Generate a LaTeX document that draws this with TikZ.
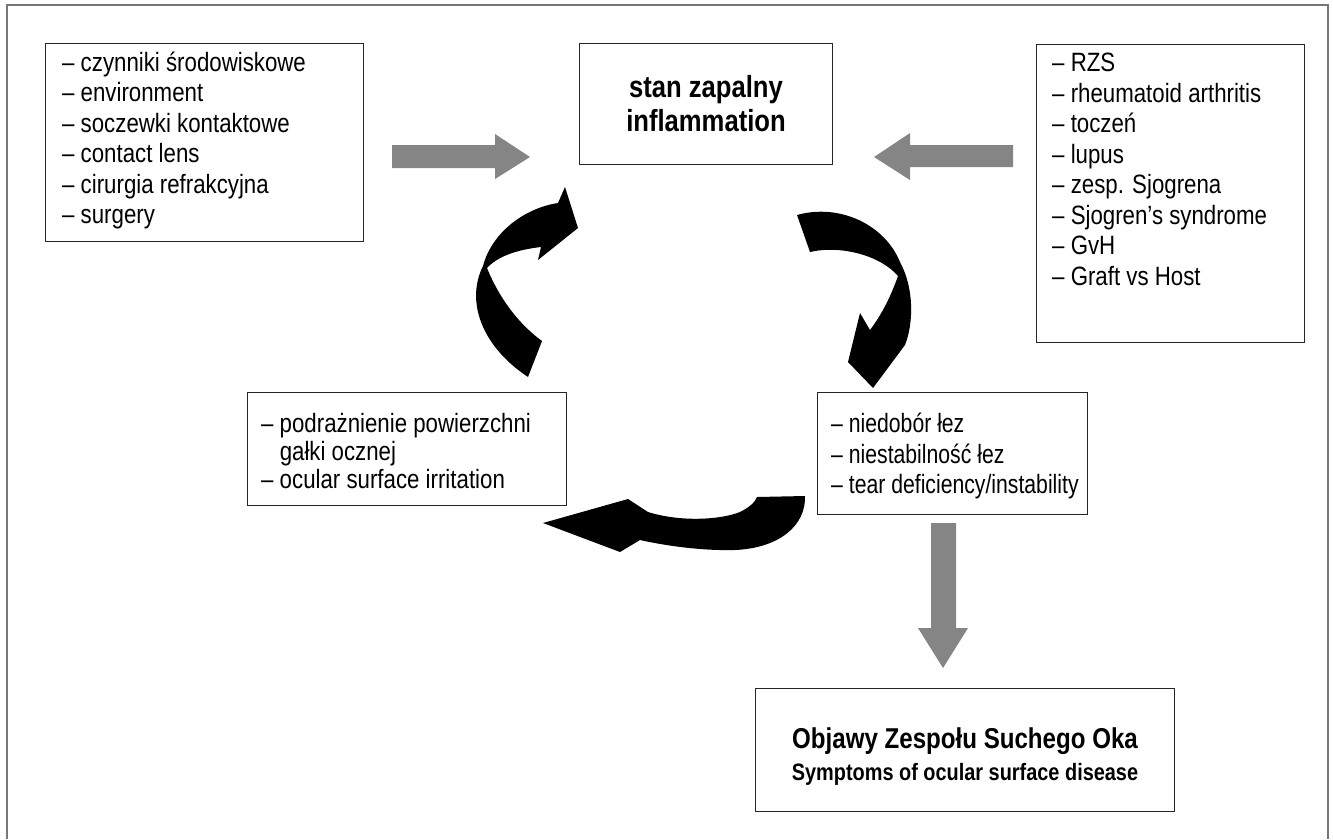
\documentclass[tikz,border=0pt]{standalone}
\usepackage{fontspec}
\setmainfont{Liberation Sans}[FakeStretch=0.84]
\newfontfamily\narrowfont{Liberation Sans}[FakeStretch=0.80]
\usetikzlibrary{calc}
\definecolor{frame}{HTML}{777777}
\definecolor{arrowgray}{HTML}{858585}
\newcommand{\firstline}{\rule{0pt}{26pt}}
\tikzset{
  box/.style={draw=black!85, line width=1.3pt, anchor=north west, inner sep=0pt},
  listtext/.style={anchor=north west, align=left, inner sep=0pt, font=\fontsize{26.5}{30.5}\selectfont},
  grayarrow/.style={fill=arrowgray, draw=none},
  blackarrow/.style={fill=black, draw=none},
}
\begin{document}
\begin{tikzpicture}[x=1pt,y=-1pt]
\useasboundingbox (0,0) rectangle (1333,839);
% outer frame
\draw[frame, line width=2pt] (7,839) -- (7,5) -- (1328,5) -- (1328,839);

% boxes
\node[box, minimum width=318pt, minimum height=198pt] (L) at (45,43) {};
\node[listtext] (Lt) at (62,45) {\firstline– czynniki środowiskowe\\– environment\\– soczewki kontaktowe\\– contact lens\\– cirurgia refrakcyjna\\– surgery};

\node[box, minimum width=253pt, minimum height=121pt] (C) at (579,43) {};
\node[align=center, inner sep=0pt, font=\bfseries\fontsize{30.5}{34}\selectfont] (Ct) at (706,104) {stan zapalny\\inflammation};

\node[box, minimum width=268pt, minimum height=298pt] (R) at (1036,44) {};
\node[listtext] (Rt) at (1052,45.5) {\firstline– RZS\\– rheumatoid arthritis\\– toczeń\\– lupus\\– zesp. Sjogrena\\– Sjogren’s syndrome\\– GvH\\– Graft vs Host};

\node[box, minimum width=319pt, minimum height=113pt] (M) at (247,392) {};
\node[listtext, font=\fontsize{26.5}{28}\selectfont] (Mt) at (261,406) {\firstline– podrażnienie powierzchni\\\hphantom{– }gałki ocznej\\– ocular surface irritation};

\node[box, minimum width=270pt, minimum height=122pt] (N) at (817,392) {};
\node[listtext, font=\narrowfont\fontsize{26.5}{30.5}\selectfont] (Nt) at (831,406.5) {\firstline– niedobór łez\\– niestabilność łez\\– tear deficiency/instability};

\node[box, minimum width=419pt, minimum height=123pt] (S) at (755,688) {};
\node[align=center, inner sep=0pt, font=\bfseries\fontsize{28.7}{34}\selectfont] (St1) at (965,741) {Objawy Zespołu Suchego Oka};
\node[align=center, inner sep=0pt, font=\bfseries\fontsize{23.7}{30}\selectfont] (St2) at (965,774) {Symptoms of ocular surface disease};

% gray block arrows
\fill[grayarrow] (392,145) -- (495,145) -- (495,134) -- (530,157) -- (495,179) -- (495,168) -- (392,168) -- cycle;
\fill[grayarrow] (1013,145) -- (910,145) -- (910,133) -- (874,157) -- (910,180) -- (910,167) -- (1013,167) -- cycle;
\fill[grayarrow] (931,523) -- (956,523) -- (956,628) -- (968,628) -- (943,668) -- (918,628) -- (931,628) -- cycle;

% black curved arrows
% left (upward)
\fill[blackarrow] (528,377) .. controls (480,345) and (466,300) .. (483,266)
  .. controls (492,232) and (525,208) .. (558,203)
  -- (565,187) -- (578,228) -- (538,260) -- (541,247)
  .. controls (515,250) and (497,257) .. (487,268)
  .. controls (500,300) and (520,325) .. (542,341) -- cycle;
% right (downward)
\fill[blackarrow] (797,215) .. controls (840,203) and (885,225) .. (900,262)
  .. controls (915,290) and (913,325) .. (905,345)
  -- (873,388) -- (848,362) -- (860,313) -- (870,330)
  .. controls (885,310) and (893,290) .. (898,276)
  .. controls (880,255) and (840,245) .. (810,252) -- cycle;
% bottom (leftward)
\fill[blackarrow] (805,496) .. controls (806,525) and (780,548) .. (735,550)
  .. controls (700,551) and (662,545) .. (640,540)
  -- (620,552) -- (543,523) -- (628,499) -- (648,512)
  .. controls (680,522) and (720,520) .. (740,512)
  .. controls (750,507) and (755,502) .. (757,497) -- cycle;
\end{tikzpicture}
\end{document}
